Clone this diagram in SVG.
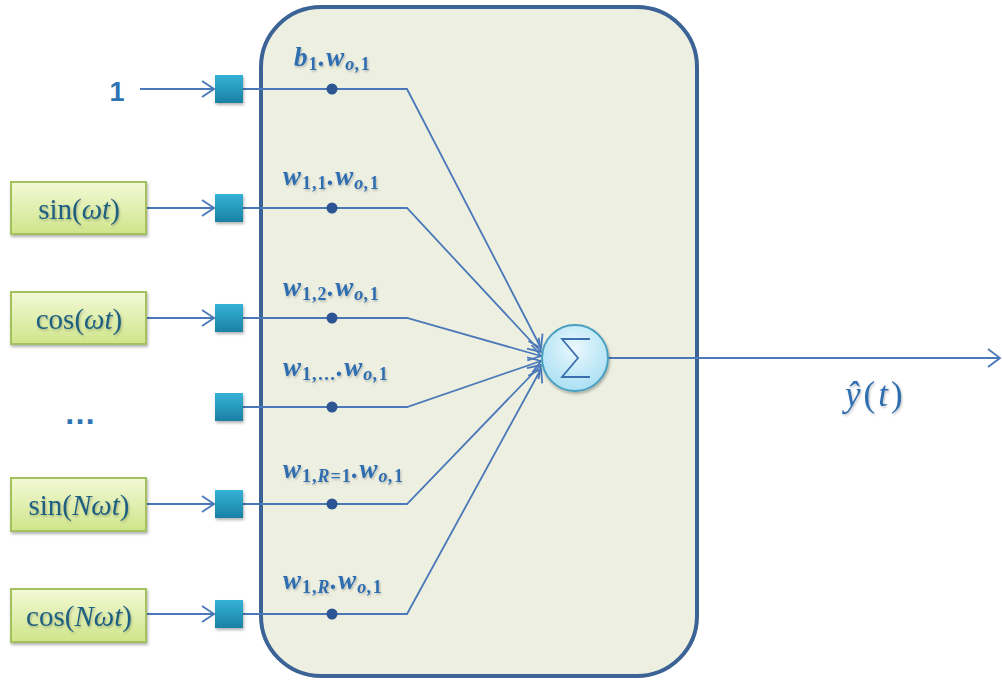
<svg xmlns="http://www.w3.org/2000/svg" width="1002" height="682" viewBox="0 0 1002 682">
<defs>
  <linearGradient id="gbox" x1="0" y1="0" x2="0" y2="1">
    <stop offset="0" stop-color="#f3f9d6"/>
    <stop offset="1" stop-color="#cfe58a"/>
  </linearGradient>
  <linearGradient id="sq" x1="0" y1="0" x2="0" y2="1">
    <stop offset="0" stop-color="#35b3d6"/>
    <stop offset="1" stop-color="#1a80a4"/>
  </linearGradient>
  <radialGradient id="circ" cx="0.5" cy="0.35" r="0.65">
    <stop offset="0" stop-color="#eaf8fd"/>
    <stop offset="1" stop-color="#a9e0f4"/>
  </radialGradient>
  <filter id="sh" x="-20%" y="-20%" width="150%" height="150%">
    <feDropShadow dx="1" dy="2" stdDeviation="1.5" flood-color="#000" flood-opacity="0.3"/>
  </filter>
  <filter id="tsh" x="-10%" y="-10%" width="130%" height="140%">
    <feDropShadow dx="1" dy="1.5" stdDeviation="0.8" flood-color="#000" flood-opacity="0.25"/>
  </filter>
  <marker id="arr" viewBox="0 0 14 18" refX="13" refY="9" markerWidth="14" markerHeight="18" markerUnits="userSpaceOnUse" orient="auto">
    <path d="M1,1 L13,9 L1,17" fill="none" stroke="#4a78b8" stroke-width="1.8"/>
  </marker>
  <marker id="arr2" viewBox="0 0 14 20" refX="13" refY="10" markerWidth="14" markerHeight="20" markerUnits="userSpaceOnUse" orient="auto">
    <path d="M1,1 L13,10 L1,19" fill="none" stroke="#4a78b8" stroke-width="1.8"/>
  </marker>
</defs>
<style>
  .ln { fill: none; stroke: #4a78b8; stroke-width: 1.8; }
  .gb { fill: url(#gbox); stroke: #a3c15e; stroke-width: 2; filter: url(#sh); }
  .sq { fill: url(#sq); filter: url(#sh); }
  .dot { fill: #2d5593; }
  .gt { font-family: "Liberation Serif", "DejaVu Serif", serif; font-size: 29px; fill: #1f5f80; filter: url(#tsh); }
  .lb { font-family: "Liberation Serif", "DejaVu Serif", serif; font-style: italic; font-weight: bold; font-size: 27px; letter-spacing: 1px; fill: #2f6db0; filter: url(#tsh); }
  .sub { font-size: 18px; }
  .up { font-style: normal; }
</style>

<g id="container">
  <rect x="261" y="7" width="436" height="669" rx="60" ry="60" fill="#edf0e1" stroke="#3c6396" stroke-width="4"/>
</g>

<g id="connectors">
  <line class="ln" x1="140" y1="89" x2="214" y2="89" marker-end="url(#arr)"/>
  <line class="ln" x1="147" y1="208" x2="214" y2="208" marker-end="url(#arr)"/>
  <line class="ln" x1="147" y1="318" x2="214" y2="318" marker-end="url(#arr)"/>
  <line class="ln" x1="147" y1="504" x2="214" y2="504" marker-end="url(#arr)"/>
  <line class="ln" x1="147" y1="614" x2="214" y2="614" marker-end="url(#arr)"/>

  <polyline class="ln" points="243,89 407,89 541,348" marker-end="url(#arr)"/>
  <polyline class="ln" points="243,208 407,208 541,352" marker-end="url(#arr)"/>
  <polyline class="ln" points="243,318 407,318 541,356" marker-end="url(#arr)"/>
  <polyline class="ln" points="243,407 407,407 541,361" marker-end="url(#arr)"/>
  <polyline class="ln" points="243,504 407,504 541,365" marker-end="url(#arr)"/>
  <polyline class="ln" points="243,614 407,614 541,369" marker-end="url(#arr)"/>

  <line class="ln" x1="608" y1="358" x2="1000" y2="358" marker-end="url(#arr2)"/>
</g>

<g id="dots">
  <circle class="dot" cx="332" cy="89" r="5.5"/>
  <circle class="dot" cx="332" cy="208" r="5.5"/>
  <circle class="dot" cx="332" cy="318" r="5.5"/>
  <circle class="dot" cx="332" cy="407" r="5.5"/>
  <circle class="dot" cx="332" cy="504" r="5.5"/>
  <circle class="dot" cx="332" cy="614" r="5.5"/>
</g>

<g id="in-1">
  <text x="117" y="101" text-anchor="middle" font-family="Liberation Sans, Arial, sans-serif" font-size="27" font-weight="bold" fill="#2e74b5">1</text>
  <rect class="sq" x="215" y="75" width="28" height="28"/>
</g>
<g id="in-sin">
  <rect class="gb" x="11" y="182" width="135" height="52"/>
  <text class="gt" x="79" y="219" text-anchor="middle">sin(<tspan font-style="italic">ωt</tspan>)</text>
  <rect class="sq" x="215" y="194" width="28" height="28"/>
</g>
<g id="in-cos">
  <rect class="gb" x="11" y="292" width="135" height="52"/>
  <text class="gt" x="79" y="329" text-anchor="middle">cos(<tspan font-style="italic">ωt</tspan>)</text>
  <rect class="sq" x="215" y="304" width="28" height="28"/>
</g>
<g id="in-dots">
  <text x="80" y="424" text-anchor="middle" font-family="Liberation Sans, Arial, sans-serif" font-size="32" font-weight="bold" fill="#2e74b5">…</text>
  <rect class="sq" x="215" y="393" width="28" height="28"/>
</g>
<g id="in-sinN">
  <rect class="gb" x="11" y="478" width="135" height="53"/>
  <text class="gt" x="79" y="515" text-anchor="middle">sin(<tspan font-style="italic">Nωt</tspan>)</text>
  <rect class="sq" x="215" y="490" width="28" height="28"/>
</g>
<g id="in-cosN">
  <rect class="gb" x="11" y="589" width="135" height="53"/>
  <text class="gt" x="79" y="626" text-anchor="middle">cos(<tspan font-style="italic">Nωt</tspan>)</text>
  <rect class="sq" x="215" y="600" width="28" height="28"/>
</g>

<g id="labels">
  <text class="lb" x="294" y="66">b<tspan class="sub up" dy="4">1</tspan><tspan dy="-4">.w</tspan><tspan class="sub" dy="4">o,</tspan><tspan class="sub up">1</tspan></text>
  <text class="lb" x="283" y="185">w<tspan class="sub up" dy="4">1,1</tspan><tspan dy="-4">.w</tspan><tspan class="sub" dy="4">o,</tspan><tspan class="sub up">1</tspan></text>
  <text class="lb" x="283" y="296">w<tspan class="sub up" dy="4">1,2</tspan><tspan dy="-4">.w</tspan><tspan class="sub" dy="4">o,</tspan><tspan class="sub up">1</tspan></text>
  <text class="lb" x="283" y="376">w<tspan class="sub up" dy="4">1,…</tspan><tspan dy="-4">.w</tspan><tspan class="sub" dy="4">o,</tspan><tspan class="sub up">1</tspan></text>
  <text class="lb" x="283" y="478">w<tspan class="sub up" dy="4">1,</tspan><tspan class="sub">R</tspan><tspan class="sub up">=1</tspan><tspan dy="-4">.w</tspan><tspan class="sub" dy="4">o,</tspan><tspan class="sub up">1</tspan></text>
  <text class="lb" x="283" y="589">w<tspan class="sub up" dy="4">1,</tspan><tspan class="sub">R</tspan><tspan dy="-4">.w</tspan><tspan class="sub" dy="4">o,</tspan><tspan class="sub up">1</tspan></text>
</g>

<g id="sum">
  <circle cx="575" cy="358" r="33" fill="url(#circ)" stroke="#4a9fc0" stroke-width="2" filter="url(#sh)"/>
  <path d="M590,339 L562,339 L578,358 L562,377 L590,377" fill="none" stroke="#3c6fb0" stroke-width="1.8"/>
</g>

<g id="output">
  <text x="845" y="406" font-family="Liberation Serif, DejaVu Serif, serif" font-style="italic" font-size="35" letter-spacing="3" fill="#2f6db0" filter="url(#tsh)">ŷ<tspan font-style="normal">(</tspan>t<tspan font-style="normal">)</tspan></text>
</g>
</svg>
